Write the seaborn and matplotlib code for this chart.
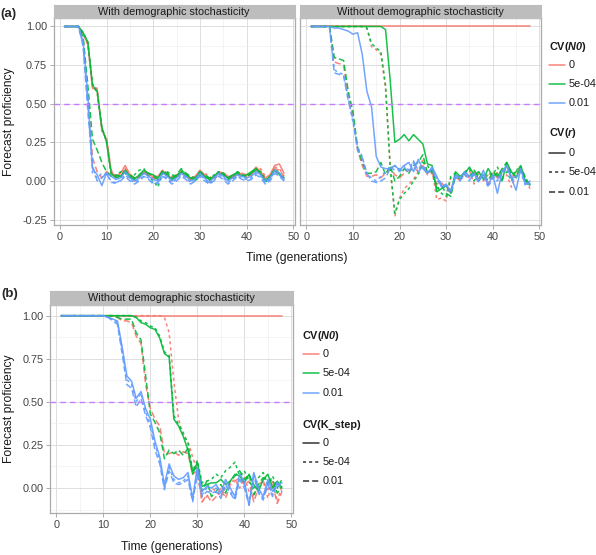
import numpy as np
import pandas as pd
import matplotlib
matplotlib.use("Agg")
import matplotlib.pyplot as plt
from matplotlib.lines import Line2D
from matplotlib.ticker import MultipleLocator, FormatStrFormatter
import seaborn as sns

# ---------------- data ----------------
time = list(range(1, 49))
n0_levels = ["0", "5e-04", "0.01"]
cv_levels = ["0", "5e-04", "0.01"]
facet_a = ["With demographic stochasticity", "Without demographic stochasticity"]
facet_b = "Without demographic stochasticity"

# panel (a), with demographic stochasticity ; aw_n0_<N0>_r_<r>
aw_n0_0_r_0 = [1.00, 1.00, 1.00, 1.00, 0.95, 0.89, 0.60, 0.59, 0.33, 0.27, 0.06, 0.03,
               0.05, 0.10, 0.04, 0.02, 0.03, 0.06, 0.04, 0.03, 0.03, 0.07, 0.03, 0.02,
               0.04, 0.05, 0.03, 0.02, 0.03, 0.07, 0.04, 0.02, 0.02, 0.06, 0.05, 0.03,
               0.03, 0.04, 0.05, 0.04, 0.05, 0.09, 0.06, 0.02, 0.04, 0.10, 0.11, 0.05]
aw_n0_5_r_0 = [1.00, 1.00, 1.00, 1.00, 0.96, 0.90, 0.62, 0.58, 0.35, 0.25, 0.05, 0.02,
               0.03, 0.07, 0.03, 0.01, 0.04, 0.07, 0.05, 0.04, 0.02, 0.06, 0.04, 0.01,
               0.03, 0.06, 0.04, 0.02, 0.01, 0.06, 0.03, 0.01, 0.03, 0.05, 0.04, 0.02,
               0.04, 0.05, 0.03, 0.04, 0.06, 0.08, 0.05, 0.00, 0.03, 0.07, 0.04, 0.02]
aw_n0_1_r_0 = [1.00, 1.00, 1.00, 1.00, 0.90, 0.55, 0.08, 0.04, -0.03, 0.05, 0.03, 0.01,
               0.02, 0.06, 0.02, 0.00, 0.02, 0.05, 0.03, 0.01, 0.00, 0.05, 0.03, 0.00,
               0.02, 0.05, 0.03, 0.00, 0.01, 0.05, 0.02, -0.01, 0.02, 0.05, 0.03, 0.00,
               0.02, 0.04, 0.03, 0.02, 0.03, 0.06, 0.04, 0.00, 0.02, 0.07, 0.05, 0.01]
aw_n0_0_r_5 = [1.00, 1.00, 1.00, 1.00, 0.95, 0.88, 0.61, 0.60, 0.32, 0.28, 0.07, 0.02,
               0.04, 0.08, 0.05, 0.00, 0.02, 0.05, 0.04, 0.02, 0.00, 0.05, 0.05, 0.03,
               0.02, 0.06, 0.05, 0.01, 0.02, 0.05, 0.05, 0.03, 0.01, 0.04, 0.06, 0.02,
               0.02, 0.05, 0.04, 0.03, 0.04, 0.07, 0.08, 0.03, 0.03, 0.09, 0.08, 0.03]
aw_n0_5_r_5 = [1.00, 1.00, 1.00, 1.00, 0.96, 0.90, 0.63, 0.57, 0.34, 0.26, 0.04, 0.03,
               0.06, 0.05, 0.02, 0.04, 0.07, 0.08, 0.03, 0.00, -0.04, 0.05, 0.06, 0.04,
               0.03, 0.07, 0.05, 0.02, 0.00, 0.04, 0.03, 0.00, 0.04, 0.06, 0.05, 0.02,
               0.03, 0.06, 0.04, 0.03, 0.05, 0.07, 0.06, 0.01, 0.02, 0.06, 0.05, 0.01]
aw_n0_1_r_5 = [1.00, 1.00, 1.00, 1.00, 0.88, 0.50, 0.05, 0.02, 0.05, 0.04, 0.00, -0.02,
               0.01, 0.04, 0.01, -0.01, 0.01, 0.03, 0.02, -0.01, -0.02, 0.03, 0.02, -0.01,
               0.01, 0.04, 0.02, -0.01, 0.00, 0.04, 0.01, -0.02, 0.01, 0.04, 0.02, -0.01,
               0.01, 0.03, 0.02, 0.01, 0.02, 0.05, 0.03, -0.01, 0.01, 0.06, 0.04, 0.00]
aw_n0_0_r_1 = [1.00, 1.00, 1.00, 1.00, 0.92, 0.55, 0.15, 0.06, 0.02, 0.06, 0.04, 0.03,
               0.02, 0.08, 0.03, 0.01, 0.03, 0.06, 0.04, 0.02, 0.02, 0.06, 0.04, 0.01,
               0.03, 0.06, 0.04, 0.01, 0.02, 0.06, 0.03, 0.01, 0.02, 0.05, 0.04, 0.02,
               0.02, 0.04, 0.04, 0.03, 0.04, 0.07, 0.05, 0.01, 0.03, 0.08, 0.07, 0.03]
aw_n0_5_r_1 = [1.00, 1.00, 1.00, 1.00, 0.93, 0.62, 0.27, 0.20, 0.12, 0.06, 0.03, 0.04,
               0.03, 0.06, 0.04, 0.02, 0.03, 0.06, 0.05, 0.03, 0.01, 0.07, 0.05, 0.02,
               0.04, 0.08, 0.05, 0.03, 0.02, 0.06, 0.04, 0.02, 0.03, 0.06, 0.05, 0.01,
               0.03, 0.06, 0.04, 0.02, 0.05, 0.08, 0.05, -0.01, 0.02, 0.08, 0.05, 0.02]
aw_n0_1_r_1 = [1.00, 1.00, 1.00, 1.00, 0.87, 0.45, 0.10, 0.00, 0.02, 0.05, -0.01, -0.01,
               0.00, 0.03, 0.00, -0.02, 0.00, 0.03, 0.01, -0.02, -0.01, 0.03, 0.01, -0.02,
               0.00, 0.03, 0.01, -0.02, 0.00, 0.03, 0.00, -0.02, 0.00, 0.03, 0.01, -0.02,
               0.00, 0.03, 0.01, 0.00, 0.01, 0.04, 0.02, -0.02, 0.00, 0.05, 0.03, 0.00]

# panel (a), without demographic stochasticity ; ao_n0_<N0>_r_<r>
ao_n0_0_r_0 = [1.00, 1.00, 1.00, 1.00, 1.00, 1.00, 1.00, 1.00, 1.00, 1.00, 1.00, 1.00,
               1.00, 1.00, 1.00, 1.00, 1.00, 1.00, 1.00, 1.00, 1.00, 1.00, 1.00, 1.00,
               1.00, 1.00, 1.00, 1.00, 1.00, 1.00, 1.00, 1.00, 1.00, 1.00, 1.00, 1.00,
               1.00, 1.00, 1.00, 1.00, 1.00, 1.00, 1.00, 1.00, 1.00, 1.00, 1.00, 1.00]
ao_n0_5_r_0 = [1.00, 1.00, 1.00, 1.00, 1.00, 1.00, 1.00, 1.00, 1.00, 1.00, 1.00, 1.00,
               1.00, 1.00, 1.00, 1.00, 0.98, 0.65, 0.25, 0.27, 0.30, 0.26, 0.30, 0.27,
               0.24, 0.11, 0.10, -0.07, -0.05, -0.03, -0.08, 0.06, 0.03, 0.05, 0.09, 0.04,
               0.06, 0.01, 0.08, 0.03, 0.05, 0.00, 0.12, 0.06, 0.02, 0.09, 0.00, -0.02]
ao_n0_1_r_0 = [1.00, 1.00, 1.00, 1.00, 1.00, 0.99, 0.99, 0.98, 0.97, 0.95, 0.96, 0.82,
               0.58, 0.48, 0.16, 0.09, 0.08, 0.08, 0.10, 0.07, 0.10, 0.12, 0.06, 0.14,
               0.08, 0.05, 0.09, 0.03, -0.04, -0.02, -0.07, 0.04, 0.02, 0.06, 0.03, 0.05,
               0.00, 0.07, -0.03, 0.04, -0.08, 0.06, 0.10, 0.02, -0.06, 0.08, -0.02, 0.00]
ao_n0_0_r_5 = [1.00, 1.00, 1.00, 1.00, 1.00, 1.00, 1.00, 1.00, 1.00, 1.00, 1.00, 1.00,
               0.99, 0.87, 0.85, 0.82, 0.60, 0.10, -0.23, -0.11, -0.05, -0.02, 0.01, 0.06,
               0.14, 0.05, 0.07, -0.12, -0.11, -0.13, 0.02, 0.04, 0.00, 0.05, 0.07, -0.02,
               0.06, 0.00, 0.04, 0.02, 0.06, 0.01, 0.04, -0.04, 0.05, 0.08, 0.01, -0.05]
ao_n0_5_r_5 = [1.00, 1.00, 1.00, 1.00, 1.00, 1.00, 1.00, 1.00, 1.00, 1.00, 1.00, 1.00,
               0.99, 0.89, 0.86, 0.84, 0.62, 0.08, -0.21, -0.12, -0.08, -0.05, 0.00, 0.04,
               0.12, 0.10, 0.05, -0.03, -0.08, -0.10, 0.03, 0.05, 0.01, 0.06, 0.08, 0.00,
               0.05, 0.02, 0.05, 0.04, 0.09, 0.02, 0.06, 0.00, 0.07, 0.09, 0.02, -0.03]
ao_n0_1_r_5 = [1.00, 1.00, 1.00, 1.00, 0.99, 0.72, 0.70, 0.69, 0.54, 0.38, 0.22, 0.16,
               0.04, 0.02, 0.00, 0.03, 0.06, 0.09, 0.07, 0.08, 0.10, 0.07, 0.13, 0.07,
               0.10, 0.06, 0.07, 0.01, -0.01, -0.05, -0.07, 0.02, 0.01, 0.04, 0.00, 0.05,
               0.00, 0.04, -0.04, 0.02, 0.00, 0.05, 0.08, 0.00, 0.02, 0.06, -0.03, -0.01]
ao_n0_0_r_1 = [1.00, 1.00, 1.00, 1.00, 1.00, 0.77, 0.76, 0.75, 0.55, 0.43, 0.20, 0.10,
               0.03, 0.03, 0.04, 0.02, 0.05, 0.08, 0.04, 0.02, 0.05, 0.07, 0.09, 0.06,
               0.10, 0.04, 0.05, -0.02, -0.01, -0.05, -0.06, 0.02, 0.01, 0.04, 0.02, 0.06,
               0.01, 0.04, -0.02, 0.05, 0.02, 0.07, 0.10, 0.03, 0.04, 0.08, 0.00, -0.04]
ao_n0_5_r_1 = [1.00, 1.00, 1.00, 1.00, 1.00, 0.80, 0.79, 0.78, 0.58, 0.45, 0.22, 0.12,
               0.05, 0.05, 0.06, 0.12, 0.04, 0.10, 0.00, 0.03, 0.08, 0.05, 0.10, 0.12,
               0.17, 0.05, 0.07, -0.05, -0.03, -0.08, -0.10, 0.04, 0.02, 0.06, 0.03, 0.07,
               0.02, 0.05, 0.00, 0.06, 0.03, 0.08, 0.12, 0.04, 0.06, 0.10, 0.02, -0.03]
ao_n0_1_r_1 = [1.00, 1.00, 1.00, 1.00, 0.99, 0.70, 0.69, 0.68, 0.52, 0.40, 0.20, 0.15,
               0.05, 0.00, -0.01, 0.00, 0.02, 0.08, 0.10, 0.06, 0.09, 0.05, 0.12, 0.06,
               0.09, 0.05, 0.08, 0.00, -0.02, -0.03, -0.06, 0.03, 0.00, 0.05, 0.01, 0.04,
               -0.01, 0.05, -0.03, 0.03, 0.01, 0.06, 0.09, 0.02, 0.03, 0.07, -0.02, -0.02]

# panel (b), without demographic stochasticity ; b_n0_<N0>_k_<K_step>
b_n0_0_k_0 = [1.00, 1.00, 1.00, 1.00, 1.00, 1.00, 1.00, 1.00, 1.00, 1.00, 1.00, 1.00,
              1.00, 1.00, 1.00, 1.00, 1.00, 1.00, 1.00, 1.00, 1.00, 1.00, 1.00, 1.00,
              1.00, 1.00, 1.00, 1.00, 1.00, 1.00, 1.00, 1.00, 1.00, 1.00, 1.00, 1.00,
              1.00, 1.00, 1.00, 1.00, 1.00, 1.00, 1.00, 1.00, 1.00, 1.00, 1.00, 1.00]
b_n0_5_k_0 = [1.00, 1.00, 1.00, 1.00, 1.00, 1.00, 1.00, 1.00, 1.00, 1.00, 1.00, 1.00,
              1.00, 1.00, 1.00, 1.00, 0.99, 0.96, 0.95, 0.93, 0.92, 0.87, 0.78, 0.76,
              0.40, 0.36, 0.30, 0.22, 0.08, 0.15, 0.01, 0.02, 0.03, 0.03, 0.05, 0.02,
              0.04, 0.08, 0.07, 0.03, 0.08, 0.02, -0.02, 0.05, 0.08, 0.00, 0.04, 0.00]
b_n0_1_k_0 = [1.00, 1.00, 1.00, 1.00, 1.00, 1.00, 1.00, 1.00, 1.00, 1.00, 0.99, 0.98,
              0.97, 0.82, 0.65, 0.62, 0.52, 0.56, 0.46, 0.40, 0.27, 0.18, 0.02, 0.14,
              0.07, 0.05, 0.06, 0.09, -0.06, 0.12, -0.02, 0.01, 0.00, 0.02, -0.03, 0.05,
              0.00, -0.05, 0.08, 0.04, -0.10, 0.09, 0.00, -0.05, 0.05, -0.02, 0.02, 0.03]
b_n0_0_k_5 = [1.00, 1.00, 1.00, 1.00, 1.00, 1.00, 1.00, 1.00, 1.00, 1.00, 1.00, 1.00,
              1.00, 1.00, 1.00, 1.00, 1.00, 1.00, 1.00, 1.00, 1.00, 1.00, 0.99, 0.90,
              0.62, 0.40, 0.30, 0.27, 0.18, 0.10, -0.08, -0.05, 0.00, -0.02, -0.05, 0.00,
              0.03, 0.05, 0.00, 0.06, -0.02, -0.05, 0.02, 0.04, -0.06, 0.04, -0.08, 0.02]
b_n0_5_k_5 = [1.00, 1.00, 1.00, 1.00, 1.00, 1.00, 1.00, 1.00, 1.00, 1.00, 1.00, 1.00,
              1.00, 1.00, 1.00, 1.00, 0.99, 0.97, 0.96, 0.94, 0.93, 0.88, 0.79, 0.77,
              0.42, 0.37, 0.32, 0.26, 0.10, 0.16, 0.03, 0.04, 0.05, 0.08, 0.06, 0.10,
              0.12, 0.15, 0.07, 0.10, 0.04, 0.00, 0.06, 0.09, 0.02, 0.07, 0.00, 0.05]
b_n0_1_k_5 = [1.00, 1.00, 1.00, 1.00, 1.00, 1.00, 1.00, 1.00, 1.00, 1.00, 0.99, 0.98,
              0.96, 0.80, 0.63, 0.60, 0.50, 0.55, 0.44, 0.37, 0.25, 0.16, 0.00, 0.12,
              0.05, 0.03, 0.04, 0.07, -0.07, 0.10, -0.04, 0.00, -0.02, 0.00, -0.05, 0.03,
              -0.02, -0.06, 0.06, 0.02, -0.09, 0.08, -0.02, -0.06, 0.03, -0.04, 0.04, 0.00]
b_n0_0_k_1 = [1.00, 1.00, 1.00, 1.00, 1.00, 1.00, 1.00, 1.00, 1.00, 1.00, 1.00, 1.00,
              0.99, 0.97, 0.97, 0.96, 0.88, 0.84, 0.60, 0.46, 0.40, 0.36, 0.20, 0.20,
              0.21, 0.19, 0.21, 0.20, 0.08, 0.10, -0.08, -0.04, -0.08, -0.05, 0.00, -0.06,
              0.02, 0.04, 0.06, 0.02, 0.04, -0.08, 0.00, 0.04, -0.01, 0.02, -0.09, -0.02]
b_n0_5_k_1 = [1.00, 1.00, 1.00, 1.00, 1.00, 1.00, 1.00, 1.00, 1.00, 1.00, 1.00, 1.00,
              0.99, 0.98, 0.98, 0.98, 0.90, 0.86, 0.65, 0.43, 0.38, 0.32, 0.17, 0.22,
              0.20, 0.22, 0.19, 0.23, 0.10, 0.12, -0.02, 0.04, -0.05, -0.02, 0.02, -0.03,
              0.04, 0.07, 0.10, 0.05, 0.08, -0.04, 0.02, 0.06, 0.03, 0.05, -0.03, 0.01]
b_n0_1_k_1 = [1.00, 1.00, 1.00, 1.00, 1.00, 1.00, 1.00, 1.00, 1.00, 1.00, 0.99, 0.97,
              0.95, 0.78, 0.60, 0.58, 0.47, 0.52, 0.42, 0.35, 0.22, 0.14, -0.01, 0.10,
              0.03, 0.02, 0.03, 0.05, -0.08, 0.08, -0.05, -0.02, -0.03, -0.02, -0.06, 0.02,
              -0.03, -0.07, 0.05, 0.00, -0.10, 0.07, -0.03, -0.07, 0.02, -0.05, 0.03, -0.02]

# ---------------- table ----------------
series_a = {
    (facet_a[0], "0", "0"): aw_n0_0_r_0, (facet_a[0], "5e-04", "0"): aw_n0_5_r_0, (facet_a[0], "0.01", "0"): aw_n0_1_r_0,
    (facet_a[0], "0", "5e-04"): aw_n0_0_r_5, (facet_a[0], "5e-04", "5e-04"): aw_n0_5_r_5, (facet_a[0], "0.01", "5e-04"): aw_n0_1_r_5,
    (facet_a[0], "0", "0.01"): aw_n0_0_r_1, (facet_a[0], "5e-04", "0.01"): aw_n0_5_r_1, (facet_a[0], "0.01", "0.01"): aw_n0_1_r_1,
    (facet_a[1], "0", "0"): ao_n0_0_r_0, (facet_a[1], "5e-04", "0"): ao_n0_5_r_0, (facet_a[1], "0.01", "0"): ao_n0_1_r_0,
    (facet_a[1], "0", "5e-04"): ao_n0_0_r_5, (facet_a[1], "5e-04", "5e-04"): ao_n0_5_r_5, (facet_a[1], "0.01", "5e-04"): ao_n0_1_r_5,
    (facet_a[1], "0", "0.01"): ao_n0_0_r_1, (facet_a[1], "5e-04", "0.01"): ao_n0_5_r_1, (facet_a[1], "0.01", "0.01"): ao_n0_1_r_1,
}
series_b = {
    (facet_b, "0", "0"): b_n0_0_k_0, (facet_b, "5e-04", "0"): b_n0_5_k_0, (facet_b, "0.01", "0"): b_n0_1_k_0,
    (facet_b, "0", "5e-04"): b_n0_0_k_5, (facet_b, "5e-04", "5e-04"): b_n0_5_k_5, (facet_b, "0.01", "5e-04"): b_n0_1_k_5,
    (facet_b, "0", "0.01"): b_n0_0_k_1, (facet_b, "5e-04", "0.01"): b_n0_5_k_1, (facet_b, "0.01", "0.01"): b_n0_1_k_1,
}


def to_frame(series):
    rows = []
    for (panel, n0, cv), vals in series.items():
        assert len(vals) == len(time), (panel, n0, cv, len(vals))
        for t, v in zip(time, vals):
            rows.append((panel, n0, cv, t, v))
    return pd.DataFrame(rows, columns=["panel", "n0", "cv", "t", "v"])


df_a = to_frame(series_a)
df_b = to_frame(series_b)

# ---------------- style ----------------
sns.set_theme(style="white")
plt.rcParams["font.family"] = ["Liberation Sans", "DejaVu Sans"]
plt.rcParams["mathtext.fontset"] = "custom"
plt.rcParams["mathtext.rm"] = "Liberation Sans"
plt.rcParams["mathtext.it"] = "Liberation Sans:italic"
plt.rcParams["mathtext.bf"] = "Liberation Sans:bold"
plt.rcParams["mathtext.bfit"] = "Liberation Sans:bold:italic"

palette = {"0": "#F8766D", "5e-04": "#00BA38", "0.01": "#619CFF"}
dashes = {"0": "", "5e-04": (2, 2), "0.01": (4, 2)}
LW = 1.1
GRID_MAJ = "#DEDEDE"
GRID_MIN = "#EEEEEE"
BORDER = "#ABABAB"
STRIP = "#BDBDBD"
TXT = "#1A1A1A"
TICKTXT = "#444444"
HLINE = "#C77CFF"

W, H = 596, 555
fig = plt.figure(figsize=(W / 100, H / 100), dpi=100)
fig.patch.set_facecolor("white")


def add_ax(l, t, r, b):
    return fig.add_axes([l / W, 1 - b / H, (r - l) / W, (b - t) / H])


def fx(x):
    return x / W


def fy(y):
    return 1 - y / H


def style_panel(ax, ylim, ylab_ticks):
    ax.set_xlim(-1.35, 50.35)
    ax.set_ylim(*ylim)
    ax.set_facecolor("white")
    ax.xaxis.set_major_locator(MultipleLocator(10))
    ax.xaxis.set_minor_locator(MultipleLocator(5))
    ax.yaxis.set_major_locator(MultipleLocator(0.25))
    ax.yaxis.set_minor_locator(MultipleLocator(0.125))
    ax.yaxis.set_major_formatter(FormatStrFormatter("%.2f"))
    ax.grid(True, which="major", color=GRID_MAJ, lw=0.7, zorder=0)
    ax.grid(True, which="minor", color=GRID_MIN, lw=0.45, zorder=0)
    ax.set_axisbelow(True)
    for s in ax.spines.values():
        s.set_color(BORDER)
        s.set_linewidth(0.9)
    ax.tick_params(which="major", direction="out", length=2.6, width=0.7, color=BORDER,
                   labelsize=7.8, labelcolor=TICKTXT, pad=2.2)
    ax.tick_params(which="minor", length=0)
    ax.tick_params(axis="y", left=ylab_ticks, labelleft=ylab_ticks)
    ax.tick_params(axis="x", bottom=True)
    ax.set_xlabel("")
    ax.set_ylabel("")


def strip(l, t, r, b, text):
    sax = add_ax(l, t, r, b)
    sax.set_facecolor(STRIP)
    sax.set_xticks([])
    sax.set_yticks([])
    for s in sax.spines.values():
        s.set_color(STRIP)
        s.set_linewidth(0.8)
    sax.text(0.5, 0.48, text, ha="center", va="center", fontsize=7.8, color=TXT,
             transform=sax.transAxes)


def draw(ax, data):
    sns.lineplot(data=data, x="t", y="v", hue="n0", style="cv",
                 hue_order=n0_levels, style_order=cv_levels,
                 palette=palette, dashes=dashes, estimator=None,
                 linewidth=LW, alpha=0.9, legend=False, ax=ax, zorder=3)
    ax.axhline(0.5, color=HLINE, lw=1.0, ls=(0, (4, 3)), zorder=4)


# ---------------- panel (a) ----------------
ylim_a = (-0.285, 1.055)
ax_l = add_ax(53.5, 18, 295, 225)
ax_r = add_ax(300, 18, 541, 225)
for ax, facet, show_y in [(ax_l, facet_a[0], True), (ax_r, facet_a[1], False)]:
    draw(ax, df_a[df_a["panel"] == facet])
    style_panel(ax, ylim_a, show_y)
strip(53.5, 5, 295, 18, facet_a[0])
strip(300, 5, 541, 18, facet_a[1])

fig.text(fx(0), fy(13.5), "(a)", fontsize=9.5, fontweight="bold", ha="left", va="center")
fig.text(fx(9), fy(121.5), "Forecast proficiency", rotation=90, fontsize=8.7,
         ha="center", va="center", color=TXT)
fig.text(fx(297), fy(258), "Time (generations)", fontsize=8.7, ha="center", va="center", color=TXT)

# ---------------- panel (b) ----------------
ylim_b = (-0.145, 1.062)
ax_b = add_ax(50, 305, 293, 513)
draw(ax_b, df_b)
style_panel(ax_b, ylim_b, True)
strip(50, 291, 293, 305, facet_b)

fig.text(fx(1), fy(294), "(b)", fontsize=9.5, fontweight="bold", ha="left", va="center")
fig.text(fx(9), fy(409), "Forecast proficiency", rotation=90, fontsize=8.7,
         ha="center", va="center", color=TXT)
fig.text(fx(171.5), fy(547), "Time (generations)", fontsize=8.7, ha="center", va="center", color=TXT)


# ---------------- legends ----------------
def legend(x0, x1, xt, title1, ys1, title2, ys2):
    fig.text(fx(x0), fy(ys1[0]), title1, fontsize=7.8, fontweight="bold", ha="left",
             va="center", color=TXT)
    for lvl, y in zip(n0_levels, ys1[1:]):
        fig.add_artist(Line2D([fx(x0), fx(x1)], [fy(y), fy(y)], transform=fig.transFigure,
                              color=palette[lvl], lw=LW, alpha=0.9))
        fig.text(fx(xt), fy(y), lvl, fontsize=7.8, ha="left", va="center", color=TXT)
    fig.text(fx(x0), fy(ys2[0]), title2, fontsize=7.8, fontweight="bold", ha="left",
             va="center", color=TXT)
    for lvl, y in zip(cv_levels, ys2[1:]):
        ln = Line2D([fx(x0), fx(x1)], [fy(y), fy(y)], transform=fig.transFigure,
                    color="#333333", lw=LW)
        if dashes[lvl]:
            ln.set_dashes(dashes[lvl])
        fig.add_artist(ln)
        fig.text(fx(xt), fy(y), lvl, fontsize=7.8, ha="left", va="center", color=TXT)


legend(549, 565, 568.5, r"CV($\mathbfit{N0}$)", [46.7, 64.5, 84, 103.3],
       r"CV($\mathbfit{r}$)", [133.3, 153.3, 172, 191.7])
legend(302.5, 319, 322.5, r"CV($\mathbfit{N0}$)", [336, 354, 373.3, 392.7],
       "CV(K_step)", [425, 442.5, 462, 481])

fig.savefig("out.png", dpi=100, facecolor="white")
